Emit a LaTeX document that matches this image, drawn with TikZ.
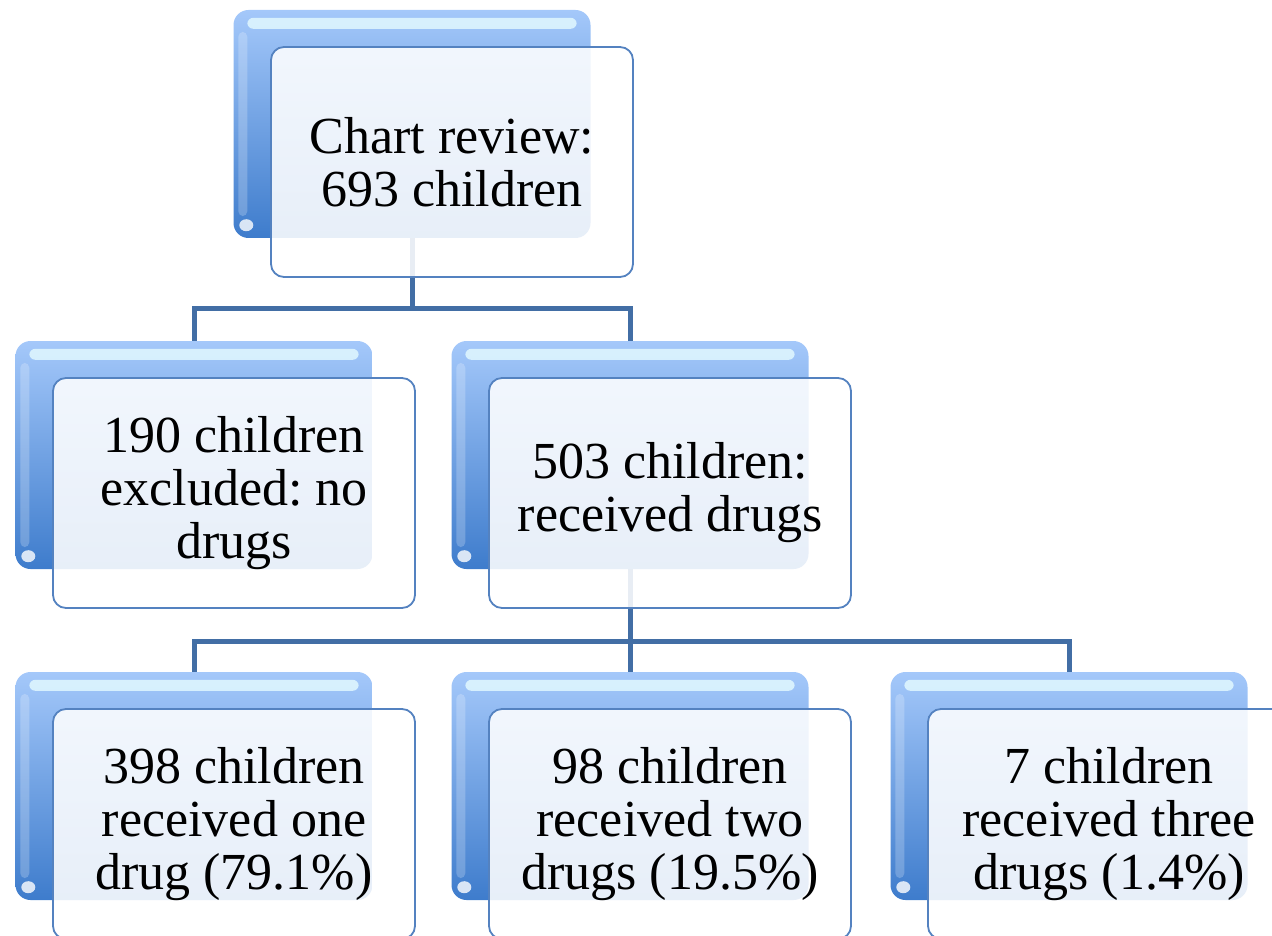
\documentclass[tikz,border=0pt]{standalone}
\usepackage{fontspec}
\setmainfont{Liberation Serif}
\usetikzlibrary{calc}
\pgfdeclarelayer{bg}
\pgfsetlayers{bg,main}
\definecolor{conncol}{RGB}{66,110,165}
\definecolor{backtop}{RGB}{164,200,250}
\definecolor{backbot}{RGB}{62,124,204}
\definecolor{frontline}{RGB}{84,130,192}
\definecolor{glowcol}{RGB}{225,248,255}
\tikzset{
  backbox/.style={minimum width=357pt,minimum height=228pt,rounded corners=15pt,
    top color=backtop,bottom color=backbot,inner sep=0pt},
  frontbox/.style={minimum width=362pt,minimum height=230pt,rounded corners=13pt,
    draw=frontline,line width=1.8pt,fill=white,fill opacity=0.88,text opacity=1,
    align=center,inner sep=0pt,font=\fontsize{52}{53}\selectfont},
  conn/.style={draw=conncol,line width=5pt},
  glow/.style={fill=glowcol,opacity=0.85,rounded corners=6pt},
}
\newcommand{\chartbox}[4]{%
  \node[backbox] (#1b) at (#2,-#3) {};
  \fill[glow] ($(#1b.north west)+(14,-8)$) rectangle ($(#1b.north east)+(-14,-19)$);
  \fill[white,opacity=0.22,rounded corners=5pt] ($(#1b.north west)+(5,-22)$) rectangle ($(#1b.south west)+(14,22)$);
  \fill[white,opacity=0.8] ($(#1b.south west)+(13,13)$) ellipse (7pt and 6pt);
  \node[frontbox] (#1) at ($(#1b.center)+(40,-38)$) {#4};
}
\begin{document}
\frenchspacing
\begin{tikzpicture}[x=1pt,y=1pt]
\clip (0,0) rectangle (1272,-936);
\chartbox{top}{412}{124}{Chart review:\\693 children}
\chartbox{exc}{194}{455}{190 children\\excluded: no\\drugs}
\chartbox{rec}{630}{455}{503 children:\\received drugs}
\chartbox{one}{194}{786}{398 children\\received one\\drug (79.1\%)}
\chartbox{two}{630}{786}{98 children\\received two\\drugs (19.5\%)}
\chartbox{three}{1069}{786}{7 children\\received three\\drugs (1.4\%)}
\begin{pgfonlayer}{bg}
\draw[conn] (topb.south) |- ($(excb.north)+(0,32)$) -- (excb.north);
\draw[conn] (topb.south) |- ($(recb.north)+(0,32)$) -- (recb.north);
\draw[conn] (recb.south) |- ($(oneb.north)+(0,30)$) -- (oneb.north);
\draw[conn] (recb.south) -- (twob.north);
\draw[conn] (recb.south) |- ($(threeb.north)+(0,30)$) -- (threeb.north);
\end{pgfonlayer}
\end{tikzpicture}
\end{document}
